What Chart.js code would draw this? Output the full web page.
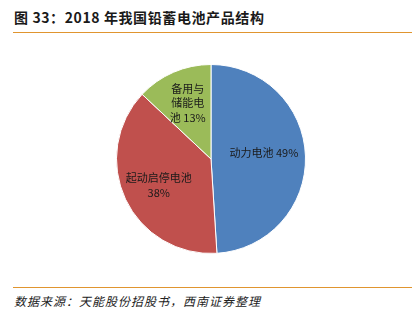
<!DOCTYPE html>
<html>
<head>
<meta charset="utf-8">
<script src="https://cdn.jsdelivr.net/npm/chart.js@4.4.0/dist/chart.umd.min.js"></script>
<style>
  html, body { margin: 0; padding: 0; background: #fff; }
  body { width: 417px; height: 322px; position: relative; overflow: hidden; font-family: "Noto Sans CJK SC", sans-serif; }
  .title { position: absolute; left: 14px; top: 7px; font-size: 14px; font-weight: bold; color: #1a1a1a; letter-spacing: 0.6px; }
  .rule { position: absolute; left: 13px; width: 399px; height: 1px; background: #e0952f; }
  .src { position: absolute; left: 14px; top: 292px; font-size: 12px; font-style: italic; color: #222; letter-spacing: 1px; }
  #wrap { position: absolute; left: 116px; top: 64px; width: 190px; height: 190px; }
</style>
</head>
<body>
<div class="title">图 33：2018 年我国铅蓄电池产品结构</div>
<div class="rule" style="top:32px"></div>
<div id="wrap"><canvas id="c-pie"></canvas></div>
<div class="rule" style="top:287px"></div>
<div class="src">数据来源：天能股份招股书，西南证券整理</div>
<script>
// product mix, percent
var categories = ["动力电池", "起动启停电池", "备用与储能电池"];
var values     = [49, 38, 13];
var colors     = ["#4f81bd", "#c0504d", "#9bbb59"];

// how each slice label wraps inside its slice
function labelLines(i) {
  var pct = values[i] + "%";
  if (i === 0) return [categories[0] + " " + pct];
  if (i === 1) return [categories[1], pct];
  return ["备用与", "储能电", "池 " + pct];
}

// label anchor: fraction of radius along the slice's mid angle, plus a small nudge
var labelRadius = [0.56, 0.6, 0.62];
var labelNudge  = [[0, -5], [-1, 2], [0, -2]];

var sliceLabels = {
  id: "sliceLabels",
  afterDatasetsDraw: function(chart) {
    var ctx = chart.ctx;
    var meta = chart.getDatasetMeta(0);
    ctx.save();
    ctx.font = "11px 'Noto Sans CJK SC', sans-serif";
    ctx.fillStyle = "#1a1a1a";
    ctx.textAlign = "center";
    ctx.textBaseline = "middle";
    meta.data.forEach(function(arc, i) {
      var p = arc.getProps(["x", "y", "startAngle", "endAngle", "outerRadius"], true);
      var mid = (p.startAngle + p.endAngle) / 2;
      var r = p.outerRadius * labelRadius[i];
      var cx = p.x + Math.cos(mid) * r + labelNudge[i][0];
      var cy = p.y + Math.sin(mid) * r + labelNudge[i][1];
      var lines = labelLines(i);
      var lh = 14.5;
      var y0 = cy - (lines.length - 1) * lh / 2;
      lines.forEach(function(s, k) { ctx.fillText(s, cx, y0 + k * lh); });
    });
    ctx.restore();
  }
};

new Chart(document.getElementById("c-pie").getContext("2d"), {
  type: "pie",
  data: {
    labels: categories,
    datasets: [{ data: values, backgroundColor: colors, borderColor: "#fff", borderWidth: 1 }]
  },
  options: {
    responsive: true,
    maintainAspectRatio: false,
    animation: false,
    layout: { padding: 0 },
    plugins: { legend: { display: false }, tooltip: { enabled: false } }
  },
  plugins: [sliceLabels]
});
</script>
</body>
</html>
